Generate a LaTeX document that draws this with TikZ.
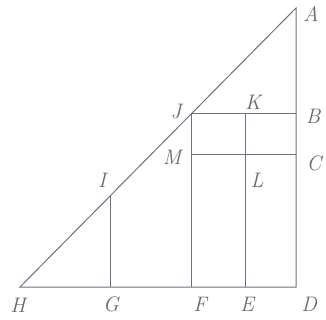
\documentclass[tikz,border=0pt]{standalone}
\usepackage{tikz}
\definecolor{lncol}{RGB}{112,112,128}
\definecolor{txcol}{RGB}{105,105,110}
\begin{document}
\begin{tikzpicture}[x=1pt,y=-1pt,
  ln/.style={draw=lncol, line width=1pt},
  lbl/.style={text=txcol, font=\fontsize{21}{21}\selectfont\itshape, inner sep=0pt}]
\useasboundingbox (0,0) rectangle (326,320);
\coordinate (A) at (296,8);
\coordinate (B) at (296,114);
\coordinate (C) at (296,155);
\coordinate (D) at (296,287);
\coordinate (E) at (245,287);
\coordinate (F) at (191,287);
\coordinate (G) at (110,287);
\coordinate (H) at (20,287);
\coordinate (I) at (110,196);
\coordinate (J) at (191,114);
\coordinate (K) at (245,114);
\coordinate (L) at (245,155);
\coordinate (M) at (191,155);
\draw[ln] (H) -- (A) -- (D) -- cycle;
\draw[ln] (G) -- (I);
\draw[ln] (F) -- (J) -- (B);
\draw[ln] (M) -- (C);
\draw[ln] (E) -- (K);
\node[lbl] (lA) at (311,14) {A};
\node[lbl] (lB) at (313,116) {B};
\node[lbl] (lC) at (314,163) {C};
\node[lbl] (lD) at (309,304) {D};
\node[lbl] (lE) at (247,304) {E};
\node[lbl] (lF) at (200,304) {F};
\node[lbl] (lG) at (111,304) {G};
\node[lbl] (lH) at (18,305) {H};
\node[lbl] (lI) at (102,180) {I};
\node[lbl] (lJ) at (176,112) {J};
\node[lbl] (lK) at (253,102) {K};
\node[lbl] (lL) at (257,180) {L};
\node[lbl] (lM) at (172,157) {M};
\end{tikzpicture}
\end{document}
